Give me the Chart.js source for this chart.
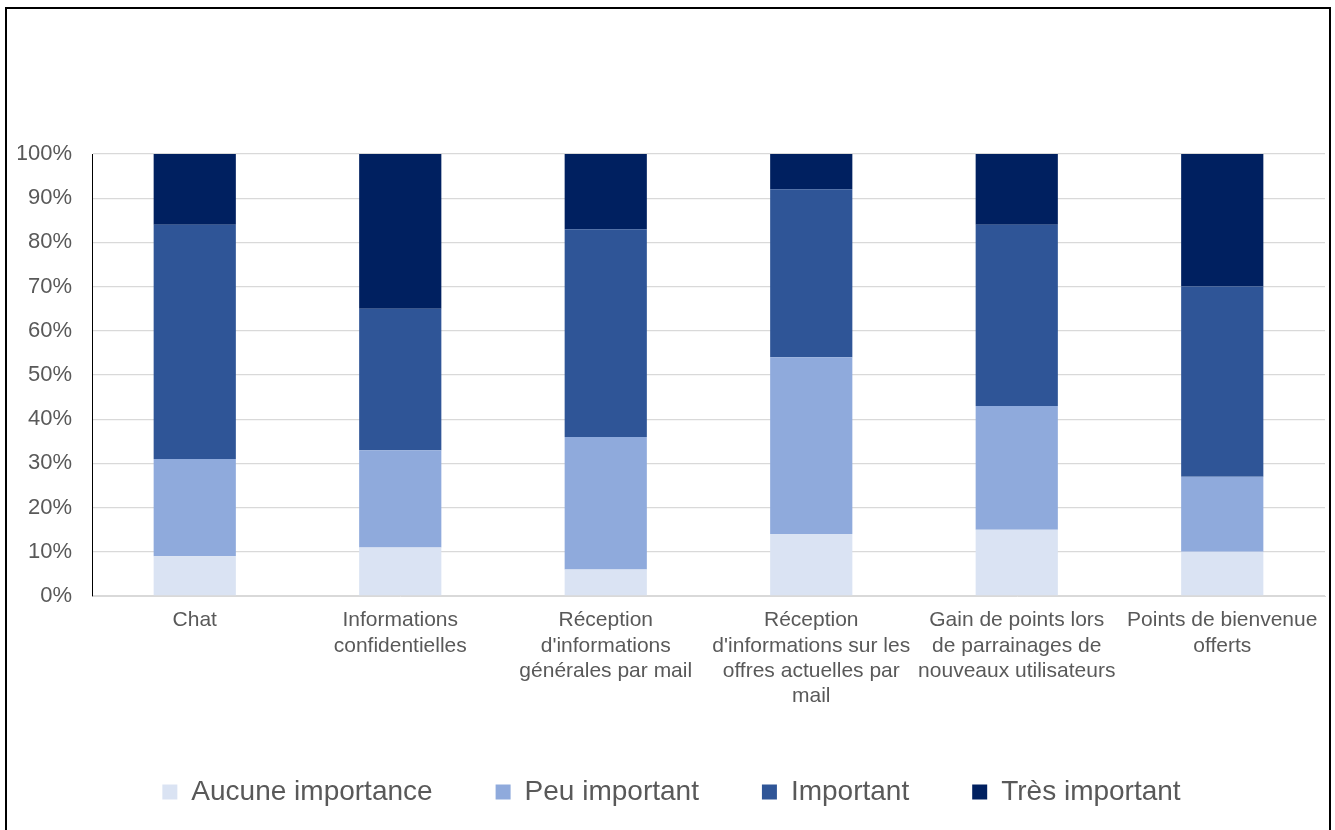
<!DOCTYPE html>
<html>
<head>
<meta charset="utf-8">
<script src="https://cdn.jsdelivr.net/npm/chart.js@4.4.1/dist/chart.umd.min.js"></script>
<style>
    body { margin: 0; background: #fff; overflow: hidden; }
    #cadre { position: absolute; left: 5px; top: 7px; width: 1322px; height: 900px; border: 2px solid #000; }
    #graficoImportance { position: absolute; left: 0; top: 0; }
</style>
</head>
<body>
<div id="cadre"></div>
<canvas id="graficoImportance" width="1335" height="816"></canvas>
<script>
// categories (axe X)
const categories = [
    'Chat',
    ['Informations', 'confidentielles'],
    ['Réception', "d'informations", 'générales par mail'],
    ['Réception', "d'informations sur les", 'offres actuelles par', 'mail'],
    ['Gain de points lors', 'de parrainages de', 'nouveaux utilisateurs'],
    ['Points de bienvenue', 'offerts']
];

// valeurs en %
const aucuneImportance = [9, 11, 6, 14, 15, 10];
const peuImportant = [22, 22, 30, 40, 28, 17];
const important = [53, 32, 47, 38, 41, 43];
const tresImportant = [16, 35, 17, 8, 16, 30];

const ticksY = [0, 10, 20, 30, 40, 50, 60, 70, 80, 90, 100];

const corTexto = '#595959';

const dados = {
    labels: categories,
    datasets: [{
        label: 'Aucune importance',
        data: aucuneImportance,
        backgroundColor: '#DAE3F3'
    },
    {
        label: 'Peu important',
        data: peuImportant,
        backgroundColor: '#8FAADC'
    },
    {
        label: 'Important',
        data: important,
        backgroundColor: '#2F5597'
    },
    {
        label: 'Très important',
        data: tresImportant,
        backgroundColor: '#002060'
    }]
};

const config = {
    type: 'bar',
    data: dados,
    options: {
        responsive: false,
        animation: false,
        categoryPercentage: 1,
        barPercentage: 0.4,
        layout: {
            padding: { left: 18, top: 154, right: 10, bottom: 0 }
        },
        plugins: {
            tooltip: { enabled: false },
            legend: {
                position: 'bottom',
                labels: {
                    color: corTexto,
                    boxWidth: 15,
                    boxHeight: 15,
                    padding: 63,
                    font: { family: '"Liberation Sans", Arial, sans-serif', size: 28 }
                }
            }
        },
        scales: {
            x: {
                stacked: true,
                grid: { display: false, drawTicks: false },
                border: { color: '#D9D9D9', width: 1 },
                ticks: {
                    color: corTexto,
                    maxRotation: 0,
                    autoSkip: false,
                    padding: 12,
                    font: { family: '"Liberation Sans", Arial, sans-serif', size: 21 }
                },
                afterFit: function (scale) { scale.height = 119; }
            },
            y: {
                stacked: true,
                min: 0,
                max: 100,
                afterBuildTicks: function (scale) {
                    scale.ticks = ticksY.map(v => ({ value: v }));
                },
                grid: { color: '#D9D9D9', drawTicks: false, lineWidth: 1.3 },
                border: { color: '#000000', width: 1 },
                ticks: {
                    color: corTexto,
                    padding: 20,
                    font: { family: '"Liberation Sans", Arial, sans-serif', size: 22 },
                    callback: function (v) { return v + '%'; }
                },
                afterFit: function (scale) { scale.width = 74; }
            }
        }
    }
};

let graficoImportance = new Chart(
    document.getElementById('graficoImportance'),
    config
);
console.log(graficoImportance.chartArea);
</script>
</body>
</html>
